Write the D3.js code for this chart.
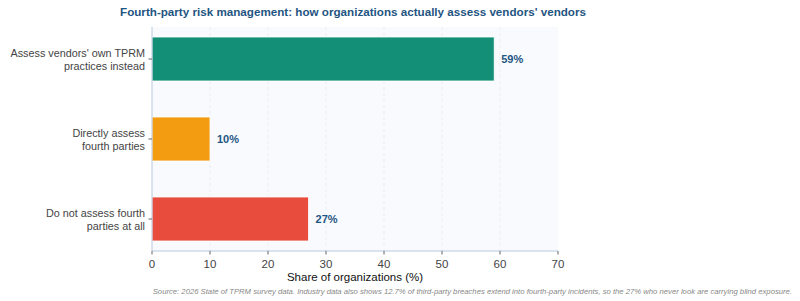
<!DOCTYPE html>
<html>
<head>
<meta charset="utf-8">
<script src="https://cdn.jsdelivr.net/npm/d3@7"></script>
<style>
  body { margin: 0; background: #fff; }
  text { font-family: "Liberation Sans", Arial, sans-serif; }
</style>
</head>
<body>
<script>
// chart data
var categories = [
  ["Assess vendors' own TPRM", "practices instead"],
  ["Directly assess", "fourth parties"],
  ["Do not assess fourth", "parties at all"]
];
var values = [59, 10, 27];
var colors = ["#148f77", "#f39c12", "#e74c3c"];
var xTicks = [0, 10, 20, 30, 40, 50, 60, 70];

var w = 800, h = 301;
var mLeft = 152, mRight = 558, mTop = 27, mBottom = 251;

var svg = d3.select("body").append("svg")
    .attr("width", w)
    .attr("height", h);

var x = d3.scaleLinear().domain([0, 70]).range([mLeft, mRight]);
var y = d3.scaleBand().domain(d3.range(values.length))
    .range([mTop, mBottom]).paddingInner(0.45).paddingOuter(0.125);

// plot background
svg.append("rect")
    .attr("x", mLeft).attr("y", mTop)
    .attr("width", mRight - mLeft).attr("height", mBottom - mTop)
    .style("fill", "#f8fafd");

// grid
svg.selectAll(".grid").data(xTicks.slice(1, -1)).enter().append("line")
    .attr("x1", function(d){ return x(d); })
    .attr("x2", function(d){ return x(d); })
    .attr("y1", mTop).attr("y2", mBottom)
    .style("stroke", "#e3e8ef")
    .style("stroke-dasharray", "3,3")
    .style("stroke-width", 0.8);

// bars
svg.selectAll(".bar").data(values).enter().append("rect")
    .attr("x", x(0))
    .attr("y", function(d, i){ return y(i); })
    .attr("width", function(d){ return x(d) - x(0); })
    .attr("height", y.bandwidth())
    .style("fill", function(d, i){ return colors[i]; })
    .style("stroke", "#fff")
    .style("stroke-width", 0.8);

// value labels
svg.selectAll(".val").data(values).enter().append("text")
    .attr("x", function(d){ return x(d) + 7; })
    .attr("y", function(d, i){ return y(i) + y.bandwidth() / 2 + 4; })
    .text(function(d){ return d + "%"; })
    .style("font-size", "11px")
    .style("font-weight", "bold")
    .style("fill", "#1f5582");

// axes lines
svg.append("line")
    .attr("x1", mLeft).attr("x2", mRight).attr("y1", mBottom).attr("y2", mBottom)
    .style("stroke", "#b8c9de");
svg.append("line")
    .attr("x1", mLeft).attr("x2", mLeft).attr("y1", mTop).attr("y2", mBottom)
    .style("stroke", "#b8c9de");

// x ticks
var xt = svg.selectAll(".xt").data(xTicks).enter().append("g")
    .attr("transform", function(d){ return "translate(" + x(d) + "," + mBottom + ")"; });
xt.append("line").attr("y2", 3.5).style("stroke", "#666");
xt.append("text")
    .attr("y", 17)
    .attr("text-anchor", "middle")
    .text(function(d){ return d; })
    .style("font-size", "11.5px")
    .style("fill", "#444");

// y labels
var yt = svg.selectAll(".yt").data(categories).enter().append("g")
    .attr("transform", function(d, i){ return "translate(" + mLeft + "," + (y(i) + y.bandwidth() / 2) + ")"; });
yt.append("line").attr("x2", -3.5).style("stroke", "#666");
yt.append("text")
    .attr("x", -7)
    .attr("text-anchor", "end")
    .style("font-size", "10.8px")
    .style("fill", "#444")
    .selectAll("tspan").data(function(d){ return d; }).enter().append("tspan")
    .attr("x", -7)
    .attr("y", function(d, i){ return i === 0 ? -2 : 10.5; })
    .text(function(d){ return d; });

// axis title
svg.append("text")
    .attr("x", (mLeft + mRight) / 2).attr("y", 281)
    .attr("text-anchor", "middle")
    .text("Share of organizations (%)")
    .style("font-size", "11.5px")
    .style("fill", "#111");

// chart title
svg.append("text")
    .attr("x", 353).attr("y", 16)
    .attr("text-anchor", "middle")
    .text("Fourth-party risk management: how organizations actually assess vendors' vendors")
    .style("font-size", "11.65px")
    .style("font-weight", "bold")
    .style("fill", "#1f5582");

// source note
svg.append("text")
    .attr("x", 792).attr("y", 294)
    .attr("text-anchor", "end")
    .text("Source: 2026 State of TPRM survey data. Industry data also shows 12.7% of third-party breaches extend into fourth-party incidents, so the 27% who never look are carrying blind exposure.")
    .style("font-size", "7.7px")
    .style("font-style", "italic")
    .style("fill", "#888");
</script>
</body>
</html>
